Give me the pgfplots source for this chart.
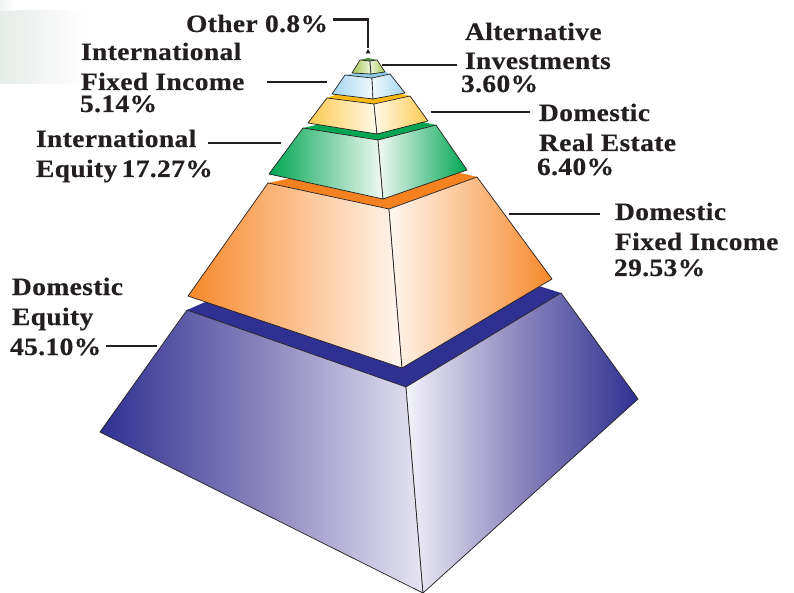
\documentclass[border=0pt]{standalone}
\usepackage{fontspec}
\usepackage{pgfplots}
\pgfplotsset{compat=1.18}
\setmainfont{Liberation Serif}
\newfontfamily\labelfont[FakeStretch=1.1,LetterSpace=1.5,FakeBold=0.4]{Liberation Serif Bold}

\definecolor{ink}{HTML}{231F20}
\definecolor{navy}{HTML}{2E3192}
\definecolor{navymid}{HTML}{8A83BC}
\definecolor{navypale}{HTML}{E6E5F3}
\definecolor{orangedeep}{HTML}{F7882A}
\definecolor{orangecap}{HTML}{F58220}
\definecolor{orangepale}{HTML}{FFF7EF}
\definecolor{greendeep}{HTML}{00A651}
\definecolor{greenpale}{HTML}{F2F9F5}
\definecolor{yellowdeep}{HTML}{FDC94E}
\definecolor{yellowcap}{HTML}{FDB913}
\definecolor{yellowpale}{HTML}{FFF9EA}
\definecolor{skydeep}{HTML}{A3D5F0}
\definecolor{skycap}{HTML}{8CCBEA}
\definecolor{skypale}{HTML}{F2F9FD}
\definecolor{limedeep}{HTML}{A5C653}
\definecolor{limepale}{HTML}{EFF4DC}
\definecolor{limecap}{HTML}{4F8A3A}
\definecolor{wash}{HTML}{E6ECE8}

\tikzset{
  caption/.style={anchor=base west,inner sep=0pt,outer sep=0pt,text=ink,
    font=\fontsize{25}{25}\labelfont},
}
\pgfplotsset{
  face/.style={draw=ink,line width=0.7pt,line join=round},
  cap/.style={draw=none,fill=#1},
  leader/.style={draw=ink,line width=2.4pt},
}

\begin{document}
\begin{tikzpicture}
\begin{axis}[
  scale only axis,width=794pt,height=593pt,
  xmin=0,xmax=794,ymin=0,ymax=593,y dir=reverse,
  hide axis,clip=true,
]
% white sheet that fixes the extent of the picture
\addplot[draw=none,fill=white] coordinates {(0,0)(794,0)(794,593)(0,593)} -- cycle;

% pale wash in the upper left corner
\addplot[draw=none,left color=wash,right color=white] coordinates {(0,11)(85,11)(85,84)(0,84)} -- cycle;
\addplot[draw=none,left color=wash!60,right color=white] coordinates {(0,0)(15,0)(15,11)(0,11)} -- cycle;

% Domestic Equity
\addplot[cap=navy] coordinates {(187,310)(203,303)(380,240)(542,287)(561,293)(406,387)} -- cycle;
\addplot[face,left color=navy,right color=navypale,middle color=navymid] coordinates {(100,432)(187,310)(406,387)(423,593)} -- cycle;
\addplot[face,left color=white!94!navy,right color=navy,middle color=navymid] coordinates {(406,387)(561,293)(638,399)(423,593)} -- cycle;

% Domestic Fixed Income
\addplot[cap=orangecap] coordinates {(268,183)(287,179)(380,160)(465,174)(477,177)(389,209)} -- cycle;
\addplot[face,left color=orangedeep,right color=orangepale] coordinates {(188,296)(268,183)(389,209)(402,368)} -- cycle;
\addplot[face,left color=orangepale,right color=orangedeep] coordinates {(389,209)(477,177)(552,279)(402,368)} -- cycle;

% International Equity
\addplot[cap=greendeep] coordinates {(303,128)(312,126)(370,110)(427,123)(436,125)(378,140)} -- cycle;
\addplot[face,left color=greendeep,right color=greenpale] coordinates {(269,174)(303,128)(378,140)(383,199)} -- cycle;
\addplot[face,left color=greenpale,right color=greendeep] coordinates {(378,140)(436,125)(467,170)(383,199)} -- cycle;

% Domestic Real Estate
\addplot[cap=yellowcap] coordinates {(327,98)(335,95)(370,85)(405,95)(410,96)(374,104)} -- cycle;
\addplot[face,left color=yellowdeep,right color=yellowpale] coordinates {(308,123)(327,98)(374,104)(377,134)} -- cycle;
\addplot[face,left color=yellowpale,right color=yellowdeep] coordinates {(374,104)(410,96)(428,121)(377,134)} -- cycle;

% International Fixed Income
\addplot[cap=skycap] coordinates {(345,75)(352,74)(370,68)(385,72)(390,74)(372,78)} -- cycle;
\addplot[face,left color=skydeep,right color=skypale] coordinates {(332,94)(345,75)(372,78)(373,99)} -- cycle;
\addplot[face,left color=skypale,right color=skydeep] coordinates {(372,78)(390,74)(405,93)(373,99)} -- cycle;

% Alternative Investments
\addplot[cap=limecap] coordinates {(360,60)(368,58)(377,60)(370,61)} -- cycle;
\addplot[face,left color=limedeep,right color=limepale] coordinates {(352,73)(360,60)(370,61)(371,74)} -- cycle;
\addplot[face,left color=limepale,right color=limedeep] coordinates {(370,61)(377,60)(385,72)(371,74)} -- cycle;

% Other
\addplot[draw=none,fill=ink] coordinates {(365.5,53.5)(368,49)(370.5,53.5)} -- cycle;

% leader lines
\addplot[leader] coordinates {(333,19.5)(368,19.5)(368,48)};
\addplot[leader] coordinates {(382,65)(457,65)};
\addplot[leader] coordinates {(267,82)(327,82)};
\addplot[leader] coordinates {(431,112)(530,112)};
\addplot[leader] coordinates {(208,143)(281,143)};
\addplot[leader] coordinates {(509,214)(600,214)};
\addplot[leader] coordinates {(106,346)(157,346)};

% captions
\node[caption] at (axis cs:186,32) {Other 0.8\%};
\node[caption] at (axis cs:81,60) {International};
\node[caption] at (axis cs:81,90) {Fixed Income};
\node[caption] at (axis cs:80,112) {5.14\%};
\node[caption] at (axis cs:36,147) {International};
\node[caption] at (axis cs:36,177) {Equity\hspace{-3pt} 17.27\%};
\node[caption] at (axis cs:465,40) {Alternative};
\node[caption] at (axis cs:465,69) {Investments};
\node[caption] at (axis cs:461,92) {3.60\%};
\node[caption] at (axis cs:539,121) {Domestic};
\node[caption] at (axis cs:539,151) {Real Estate};
\node[caption] at (axis cs:537,175) {6.40\%};
\node[caption] at (axis cs:615,220) {Domestic};
\node[caption] at (axis cs:615,250) {Fixed Income};
\node[caption] at (axis cs:614,276) {29.53\%};
\node[caption] at (axis cs:12,295) {Domestic};
\node[caption] at (axis cs:12,325) {Equity};
\node[caption] at (axis cs:10,355) {45.10\%};
\end{axis}
\end{tikzpicture}
\end{document}
